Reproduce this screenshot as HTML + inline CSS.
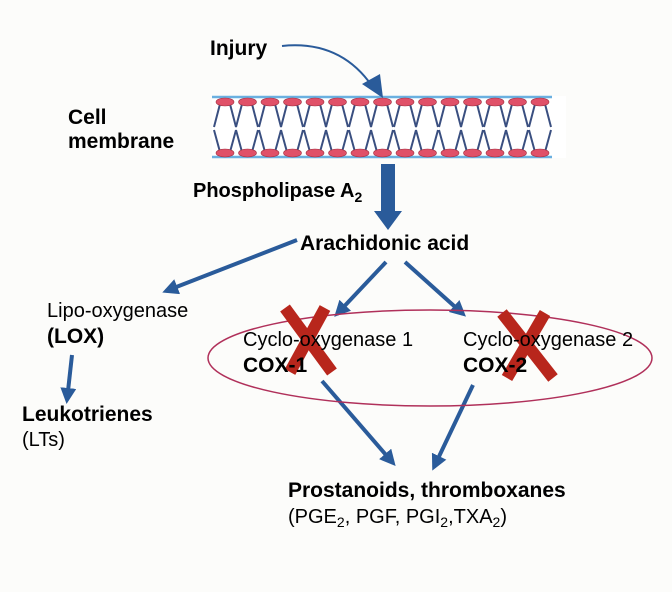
<!DOCTYPE html><html><head><style>body{margin:0;background:#fcfcfa}svg{display:block}text{font-family:"Liberation Sans",sans-serif;fill:#000}.b{font-weight:bold}</style></head><body>
<svg width="672" height="592" viewBox="0 0 672 592">
<defs>
<marker id="ah2" markerWidth="16" markerHeight="16" refX="12" refY="8" orient="auto" markerUnits="userSpaceOnUse" viewBox="0 0 16 16"><path d="M0,0 L16,8 L0,16z" fill="#2a5b9a"/></marker></defs>
<rect x="212" y="96" width="354" height="62" fill="#fff"/>
<line x1="212" y1="97" x2="552" y2="97" stroke="#6ab0e0" stroke-width="2.5"/>
<line x1="212" y1="157" x2="552" y2="157" stroke="#6ab0e0" stroke-width="2.5"/>
<g stroke="#3a4f80" stroke-width="2">
<path d="M220,104 L214,127 M230,104 L236,127 M242,104 L236,127 M252,104 L258,127 M265,104 L259,127 M275,104 L281,127 M287,104 L281,127 M297,104 L303,127 M310,104 L304,127 M320,104 L326,127 M332,104 L326,127 M342,104 L348,127 M355,104 L349,127 M365,104 L371,127 M377,104 L371,127 M387,104 L393,127 M400,104 L394,127 M410,104 L416,127 M422,104 L416,127 M432,104 L438,127 M445,104 L439,127 M455,104 L461,127 M467,104 L461,127 M477,104 L483,127 M490,104 L484,127 M500,104 L506,127 M512,104 L506,127 M522,104 L528,127 M535,104 L529,127 M545,104 L551,127"/>
<path d="M220,152 L214,130 M230,152 L236,130 M242,152 L236,130 M252,152 L258,130 M265,152 L259,130 M275,152 L281,130 M287,152 L281,130 M297,152 L303,130 M310,152 L304,130 M320,152 L326,130 M332,152 L326,130 M342,152 L348,130 M355,152 L349,130 M365,152 L371,130 M377,152 L371,130 M387,152 L393,130 M400,152 L394,130 M410,152 L416,130 M422,152 L416,130 M432,152 L438,130 M445,152 L439,130 M455,152 L461,130 M467,152 L461,130 M477,152 L483,130 M490,152 L484,130 M500,152 L506,130 M512,152 L506,130 M522,152 L528,130 M535,152 L529,130 M545,152 L551,130"/>
</g>
<g fill="#e05068" stroke="#a03040" stroke-width="0.6">
<ellipse cx="225" cy="102" rx="9" ry="4"/><ellipse cx="247.5" cy="102" rx="9" ry="4"/><ellipse cx="270" cy="102" rx="9" ry="4"/><ellipse cx="292.5" cy="102" rx="9" ry="4"/><ellipse cx="315" cy="102" rx="9" ry="4"/><ellipse cx="337.5" cy="102" rx="9" ry="4"/><ellipse cx="360" cy="102" rx="9" ry="4"/><ellipse cx="382.5" cy="102" rx="9" ry="4"/><ellipse cx="405" cy="102" rx="9" ry="4"/><ellipse cx="427.5" cy="102" rx="9" ry="4"/><ellipse cx="450" cy="102" rx="9" ry="4"/><ellipse cx="472.5" cy="102" rx="9" ry="4"/><ellipse cx="495" cy="102" rx="9" ry="4"/><ellipse cx="517.5" cy="102" rx="9" ry="4"/><ellipse cx="540" cy="102" rx="9" ry="4"/>
<ellipse cx="225" cy="153" rx="9" ry="4"/><ellipse cx="247.5" cy="153" rx="9" ry="4"/><ellipse cx="270" cy="153" rx="9" ry="4"/><ellipse cx="292.5" cy="153" rx="9" ry="4"/><ellipse cx="315" cy="153" rx="9" ry="4"/><ellipse cx="337.5" cy="153" rx="9" ry="4"/><ellipse cx="360" cy="153" rx="9" ry="4"/><ellipse cx="382.5" cy="153" rx="9" ry="4"/><ellipse cx="405" cy="153" rx="9" ry="4"/><ellipse cx="427.5" cy="153" rx="9" ry="4"/><ellipse cx="450" cy="153" rx="9" ry="4"/><ellipse cx="472.5" cy="153" rx="9" ry="4"/><ellipse cx="495" cy="153" rx="9" ry="4"/><ellipse cx="517.5" cy="153" rx="9" ry="4"/><ellipse cx="540" cy="153" rx="9" ry="4"/>
</g>
<path d="M282,46 Q340,40 372,86" fill="none" stroke="#2a5b9a" stroke-width="2"/>
<path d="M362,84 L383,98 L380,74z" fill="#2a5b9a"/>
<rect x="381" y="164" width="14" height="48" fill="#2a5b9a"/>
<path d="M374,211 L402,211 L388,230z" fill="#2a5b9a"/>
<g stroke="#2a5b9a" stroke-width="4" fill="none" marker-end="url(#ah2)">
<line x1="297" y1="240" x2="166" y2="291"/>
<line x1="386" y1="262" x2="337" y2="314"/>
<line x1="405" y1="262" x2="463" y2="314"/>
<line x1="72" y1="355" x2="67" y2="400"/>
<line x1="322" y1="381" x2="393" y2="463"/>
<line x1="473" y1="385" x2="434" y2="467"/>
</g>
<ellipse cx="430" cy="358" rx="222" ry="48" fill="none" stroke="#b0305a" stroke-width="1.5"/>
<g stroke="#b8261c" stroke-width="12" stroke-linecap="butt">
<line x1="285" y1="308" x2="332" y2="372"/><line x1="325" y1="308" x2="290" y2="372"/>
<line x1="502" y1="313" x2="553" y2="378"/><line x1="545" y1="313" x2="507" y2="378"/>
</g>
<text x="210" y="55" class="b" font-size="21">Injury</text>
<text x="68" y="124" class="b" font-size="21">Cell</text>
<text x="68" y="148" class="b" font-size="21">membrane</text>
<text x="193" y="197" class="b" font-size="20">Phospholipase A<tspan font-size="14" dy="5">2</tspan></text>
<text x="300" y="250" class="b" font-size="21">Arachidonic acid</text>
<text x="47" y="317" font-size="20">Lipo-oxygenase</text>
<text x="47" y="343" class="b" font-size="21">(LOX)</text>
<text x="22" y="421" class="b" font-size="21">Leukotrienes</text>
<text x="22" y="446" font-size="20">(LTs)</text>
<text x="243" y="346" font-size="20">Cyclo-oxygenase  1</text>
<text x="243" y="372" class="b" font-size="21">COX-1</text>
<text x="463" y="346" font-size="20">Cyclo-oxygenase  2</text>
<text x="463" y="372" class="b" font-size="21">COX-2</text>
<text x="288" y="497" class="b" font-size="21">Prostanoids, thromboxanes</text>
<text x="288" y="523" font-size="20">(PGE<tspan font-size="14" dy="4">2</tspan><tspan dy="-4">, PGF, PGI</tspan><tspan font-size="14" dy="4">2</tspan><tspan dy="-4">,TXA</tspan><tspan font-size="14" dy="4">2</tspan><tspan dy="-4">)</tspan></text>
</svg></body></html>
